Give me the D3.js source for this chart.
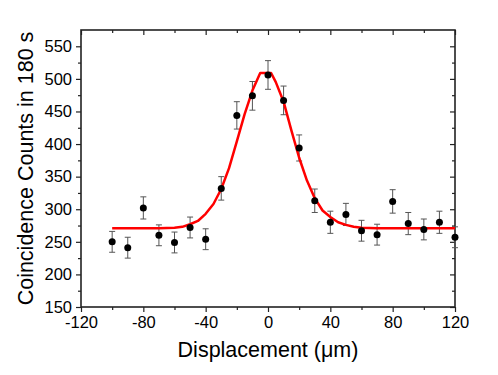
<!DOCTYPE html>
<html lang="en">
<head>
<meta charset="UTF-8">
<title>Coincidence counts vs displacement</title>
<script src="https://d3js.org/d3.v7.min.js"></script>
<style>
body { margin: 0; background: #fff; }
svg { display: block; font-family: "Liberation Sans", Arial, sans-serif; }
.tick text { font-size: 16.5px; fill: #000; font-family: "Liberation Sans", Arial, sans-serif; }
</style>
</head>
<body>
<script>
// measured points (counts per 180 s)
var displacement = [-100, -90, -80, -70, -60, -50, -40, -30, -20, -10, 0, 10, 20, 30, 40, 50, 60, 70, 80, 90, 100, 110, 120];
var counts = [250, 241, 302, 260, 249, 272, 254, 332, 444, 474, 506, 467, 394, 313, 280, 292, 267, 261, 312, 278, 269, 280, 257];
var errors = [16, 16, 17, 16, 16, 16, 16, 18, 21, 22, 22, 22, 20, 18, 17, 17, 16, 16, 18, 17, 16, 17, 16];

// fitted curve (red)
var fitX = [-100, -90, -80, -70, -60, -55, -50, -45, -40, -35, -30, -25, -20, -15, -10, -5, 2, 5, 10, 15, 20, 25, 30, 35, 40, 45, 50, 55, 60, 70, 80, 90, 100, 110, 120];
var fitY = [271, 271, 271, 271, 271.5, 273, 277, 282, 293, 308, 331, 363, 404, 446, 482, 509, 509, 495, 465, 421, 379, 344, 317, 298, 288, 280, 276, 273, 271.5, 271, 271, 271, 271, 271, 271];

var xTicks = [-120, -80, -40, 0, 40, 80, 120];
var yTicks = [150, 200, 250, 300, 350, 400, 450, 500, 550];

var width = 498, height = 375;
var margin = {left: 81, right: 43, top: 30, bottom: 68};
var w = width - margin.left - margin.right;
var h = height - margin.top - margin.bottom;

var svg = d3.select('body').append('svg')
    .attr('width', width)
    .attr('height', height);

var g = svg.append('g')
    .attr('transform', 'translate(' + margin.left + ',' + margin.top + ')');

var x = d3.scaleLinear().domain([-120, 120]).range([0, w]);
var y = d3.scaleLinear().domain([150, 575]).range([h, 0]);

var minorX = d3.range(-100, 120, 40);
var minorY = d3.range(175, 575, 50);

// plain hyphen for negatives, like the original
var plain = function(d) { return String(d); };

function styleAxis(sel) {
    sel.select('.domain').remove();
    sel.selectAll('.tick line').attr('stroke', '#222').attr('stroke-width', 1.2);
}

// bottom (outward) and top (inward)
g.append('g').attr('transform', 'translate(0,' + h + ')')
    .call(d3.axisBottom(x).tickValues(xTicks).tickSize(5).tickPadding(4).tickFormat(plain))
    .call(styleAxis);
g.append('g').attr('transform', 'translate(0,' + h + ')')
    .call(d3.axisBottom(x).tickValues(minorX).tickSize(3).tickFormat(''))
    .call(styleAxis);
g.append('g')
    .call(d3.axisTop(x).tickValues(xTicks).tickSize(-5).tickFormat(''))
    .call(styleAxis);
g.append('g')
    .call(d3.axisTop(x).tickValues(minorX).tickSize(-3).tickFormat(''))
    .call(styleAxis);

// left (outward) and right (inward)
g.append('g')
    .call(d3.axisLeft(y).tickValues(yTicks).tickSize(5).tickPadding(4).tickFormat(plain))
    .call(styleAxis);
g.append('g')
    .call(d3.axisLeft(y).tickValues(minorY).tickSize(3).tickFormat(''))
    .call(styleAxis);
g.append('g').attr('transform', 'translate(' + w + ',0)')
    .call(d3.axisRight(y).tickValues(yTicks).tickSize(-5).tickFormat(''))
    .call(styleAxis);
g.append('g').attr('transform', 'translate(' + w + ',0)')
    .call(d3.axisRight(y).tickValues(minorY).tickSize(-3).tickFormat(''))
    .call(styleAxis);

// frame
g.append('rect')
    .attr('width', w).attr('height', h)
    .attr('fill', 'none').attr('stroke', '#222').attr('stroke-width', 1.6);

var pts = displacement.map(function(d, i) { return {x: d, y: counts[i], e: errors[i]}; });

// error bars
var eb = g.append('g').attr('stroke', '#555').attr('stroke-width', 1);
eb.selectAll('.bar').data(pts).enter().append('line')
    .attr('x1', function(d) { return x(d.x); })
    .attr('x2', function(d) { return x(d.x); })
    .attr('y1', function(d) { return y(d.y - d.e); })
    .attr('y2', function(d) { return y(d.y + d.e); });
eb.selectAll('.capTop').data(pts).enter().append('line')
    .attr('x1', function(d) { return x(d.x) - 3; })
    .attr('x2', function(d) { return x(d.x) + 3; })
    .attr('y1', function(d) { return y(d.y + d.e); })
    .attr('y2', function(d) { return y(d.y + d.e); });
eb.selectAll('.capBot').data(pts).enter().append('line')
    .attr('x1', function(d) { return x(d.x) - 3; })
    .attr('x2', function(d) { return x(d.x) + 3; })
    .attr('y1', function(d) { return y(d.y - d.e); })
    .attr('y2', function(d) { return y(d.y - d.e); });

// fit line
var line = d3.line()
    .x(function(d, i) { return x(fitX[i]); })
    .y(function(d) { return y(d); });
g.append('path')
    .datum(fitY)
    .attr('d', line)
    .attr('fill', 'none')
    .attr('stroke', '#ff0000')
    .attr('stroke-width', 2.5)
    .attr('stroke-linejoin', 'round');

// data points
g.selectAll('.pt').data(pts).enter().append('circle')
    .attr('cx', function(d) { return x(d.x); })
    .attr('cy', function(d) { return y(d.y); })
    .attr('r', 3.5)
    .attr('fill', '#000');

// axis titles
svg.append('text')
    .attr('x', margin.left + w / 2)
    .attr('y', 357)
    .attr('text-anchor', 'middle')
    .attr('font-size', 21.5)
    .text('Displacement (\u03bcm)');
svg.append('text')
    .attr('transform', 'translate(33,' + (margin.top + h / 2) + ') rotate(-90)')
    .attr('text-anchor', 'middle')
    .attr('font-size', 21.5)
    .text('Coincidence Counts in 180 s');
</script>
</body>
</html>
